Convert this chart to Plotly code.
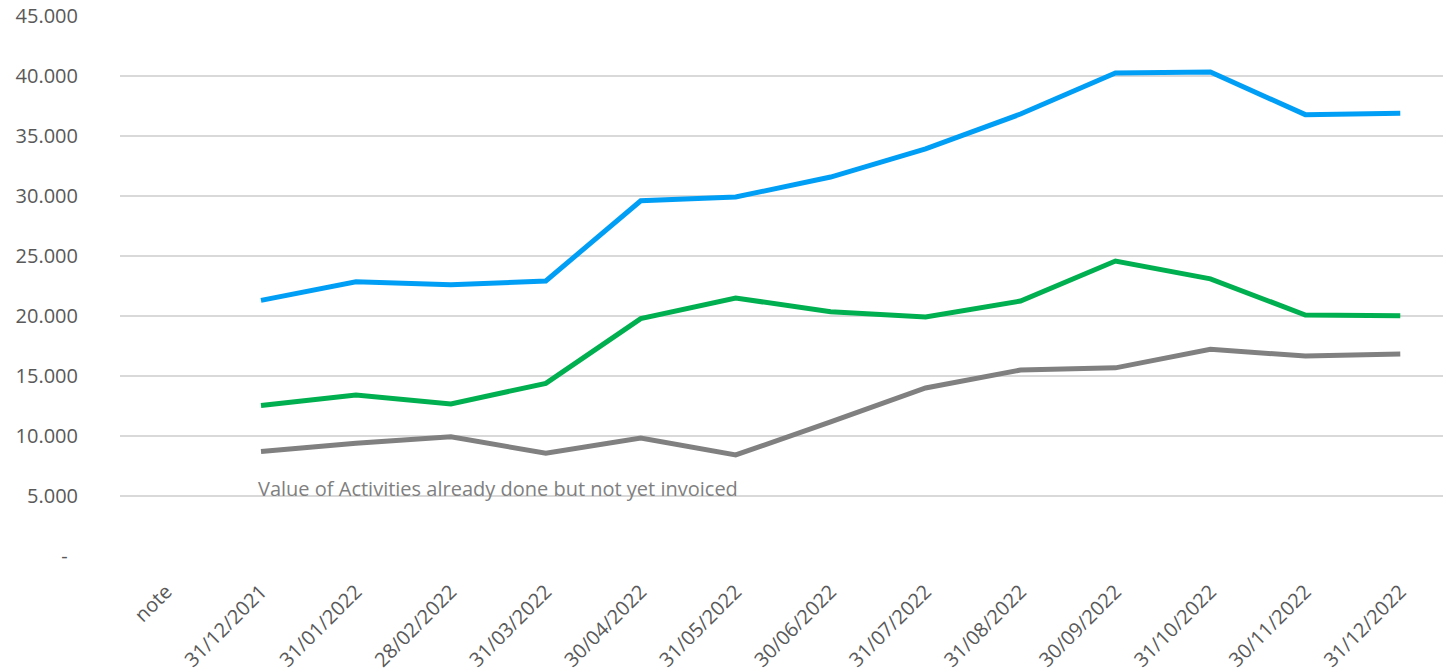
import plotly.graph_objects as go

categories = ["note", "31/12/2021", "31/01/2022", "28/02/2022", "31/03/2022",
              "30/04/2022", "31/05/2022", "30/06/2022", "31/07/2022",
              "31/08/2022", "30/09/2022", "31/10/2022", "30/11/2022",
              "31/12/2022"]

blue_values = [None, 21300, 22850, 22600, 22920, 29600, 29920, 31580,
               33920, 36830, 40250, 40330, 36780, 36900]
green_values = [None, 12550, 13420, 12670, 14390, 19780, 21500, 20350,
                19920, 21250, 24580, 23100, 20080, 20030]
gray_values = [None, 8700, 9400, 9940, 8560, 9830, 8420, 11170,
               14000, 15500, 15680, 17220, 16670, 16830]

y_tick_values = [0, 5000, 10000, 15000, 20000, 25000, 30000, 35000, 40000, 45000]
y_tick_labels = ["-\u00a0\u00a0", "5.000", "10.000", "15.000", "20.000", "25.000",
                 "30.000", "35.000", "40.000", "45.000"]

note_text = "Value of Activities already done but not yet invoiced"

x_idx = list(range(len(categories)))

fig = go.Figure()
for vals, color in [(blue_values, "#009FF5"),
                    (green_values, "#00B050"),
                    (gray_values, "#808080")]:
    fig.add_trace(go.Scatter(
        x=x_idx, y=vals, mode="lines",
        line=dict(color=color, width=5),
        connectgaps=False, showlegend=False,
    ))

fig.add_annotation(
    x=1, y=5600, xref="x", yref="y", text=note_text,
    showarrow=False, xanchor="left", yanchor="middle", xshift=-5,
    font=dict(family="Open Sans", size=20, color="#7F7F7F"),
)

fig.update_layout(
    width=1443, height=671,
    margin=dict(l=120, r=0, t=16, b=115),
    paper_bgcolor="white", plot_bgcolor="white",
    font=dict(family="Open Sans", color="#595959"),
)
fig.update_xaxes(
    tickmode="array", tickvals=x_idx, ticktext=categories,
    range=[-0.485, 13.45], tickangle=-45,
    showgrid=False, zeroline=False, showline=False, ticks="",
    ticklabelstandoff=19,
    tickfont=dict(size=20, color="#595959"),
)
fig.update_yaxes(
    tickmode="array", tickvals=y_tick_values, ticktext=y_tick_labels,
    range=[0, 45000], showgrid=True, gridcolor="#D9D9D9", gridwidth=1.5,
    zeroline=False, showline=False, ticks="", ticklabelstandoff=41,
    tickfont=dict(size=20, color="#595959"),
)
fig.write_html("out.html")
